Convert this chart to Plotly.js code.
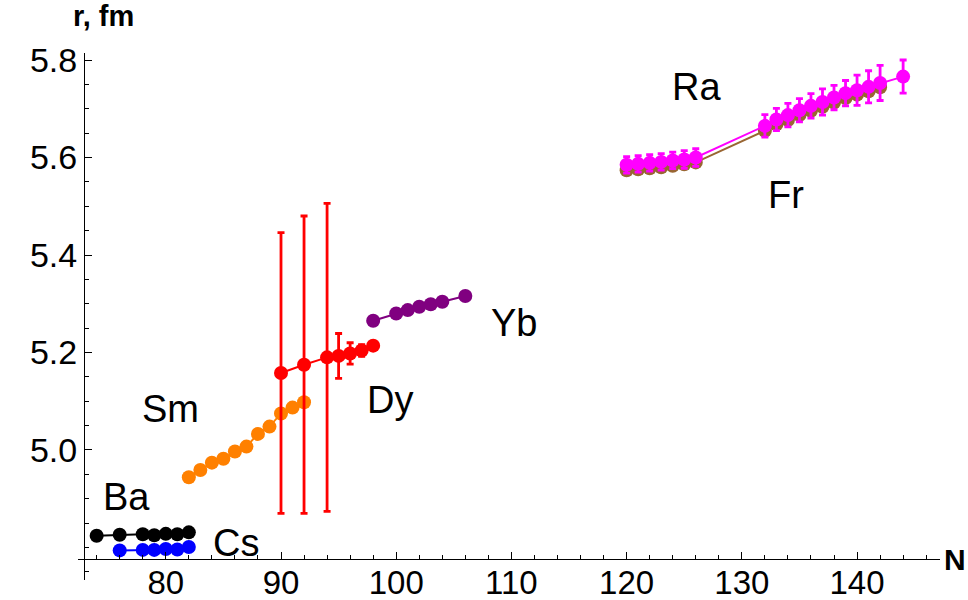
<!DOCTYPE html>
<html>
<head>
<meta charset="utf-8">
<script src="https://cdn.plot.ly/plotly-3.0.1.min.js"></script>
<style>html,body{margin:0;padding:0;background:#fff;}#chart{width:968px;height:600px;}</style>
</head>
<body>
<div id="chart"></div>
<script>
// ---- data (neutron number N, charge radius r in fm) ----
const baN = [74, 76, 78, 79, 80, 81, 82];
const baR = [4.824, 4.826, 4.827, 4.825, 4.828, 4.827, 4.831];

const csN = [76, 78, 79, 80, 81, 82];
const csR = [4.794, 4.795, 4.795, 4.797, 4.796, 4.801];

const smN = [82, 83, 84, 85, 86, 87, 88, 89, 90, 91, 92];
const smR = [4.944, 4.959, 4.974, 4.982, 4.997, 5.007, 5.033, 5.048, 5.075, 5.087, 5.098];

const dyN = [90, 92, 94, 95, 96, 97, 98];
const dyR = [5.158, 5.175, 5.190, 5.193, 5.198, 5.204, 5.214];
const dyErr = [0.288, 0.305, 0.316, 0.046, 0.022, 0.012, 0.004];

const ybN = [98, 100, 101, 102, 103, 104, 106];
const ybR = [5.265, 5.280, 5.287, 5.294, 5.299, 5.304, 5.316];

const raN = [120, 121, 122, 123, 124, 125, 126, 132, 133, 134, 135, 136, 137, 138, 139, 140, 141, 142, 144];
const raR = [5.585, 5.587, 5.589, 5.591, 5.594, 5.596, 5.600, 5.665, 5.678, 5.687, 5.697, 5.706, 5.714, 5.723, 5.732, 5.738, 5.745, 5.753, 5.766];
const raErr = [0.017, 0.017, 0.017, 0.017, 0.017, 0.018, 0.018, 0.023, 0.023, 0.024, 0.024, 0.025, 0.027, 0.025, 0.026, 0.031, 0.033, 0.036, 0.034];

const frN = [120, 121, 122, 123, 124, 125, 126, 132, 133, 134, 135, 136, 137, 138, 139, 140, 141, 142];
const frR = [5.574, 5.576, 5.578, 5.580, 5.583, 5.586, 5.590, 5.655, 5.668, 5.677, 5.687, 5.696, 5.704, 5.713, 5.722, 5.729, 5.736, 5.744];

// element labels
const labelText = ["Ba", "Cs", "Sm", "Dy", "Yb", "Ra", "Fr"];
const labelN = [76.6, 86.1, 80.4, 99.5, 110.2, 126.1, 133.8];
const labelR = [4.903, 4.809, 5.084, 5.103, 5.260, 5.745, 5.524];

// ---- styles ----
const FONT = "Liberation Sans, Arial, sans-serif";
function series(x, y, color, err) {
  const t = {
    x: x, y: y, type: "scatter", mode: "lines+markers",
    line: {color: color, width: 2},
    marker: {color: color, size: 14},
    cliponaxis: false,
    showlegend: false, hoverinfo: "skip"
  };
  if (err) {
    t.error_y = {type: "data", array: err, visible: true, color: color, thickness: 2.8, width: 3.5};
  }
  return t;
}

const traces = [
  series(baN, baR, "#000000"),
  series(csN, csR, "#0000ff"),
  series(smN, smR, "#ff8000"),
  series(dyN, dyR, "#ff0000", dyErr),
  series(ybN, ybR, "#800080"),
  series(frN, frR, "#996633"),
  series(raN, raR, "#ff00ff", raErr)
];

const annotations = labelText.map((t, i) => ({
  x: labelN[i], y: labelR[i], xref: "x", yref: "y", text: t, showarrow: false,
  font: {family: FONT, size: 38, color: "#000"}, xanchor: "center", yanchor: "middle"
}));
annotations.push({x: 0.03, y: 1.07, xref: "paper", yref: "paper", text: "<b>r, fm</b>", showarrow: false,
  font: {family: FONT, size: 29, color: "#000"}, xanchor: "center", yanchor: "middle"});
annotations.push({x: 1.0174, y: 0.038, xref: "paper", yref: "paper", text: "<b>N</b>", showarrow: false,
  font: {family: FONT, size: 30, color: "#000"}, xanchor: "center", yanchor: "middle"});

const layout = {
  width: 968, height: 600,
  margin: {l: 78, r: 28, t: 53, b: 20},
  paper_bgcolor: "#fff", plot_bgcolor: "#fff",
  showlegend: false,
  xaxis: {
    range: [72.38, 147.2], anchor: "free", position: 0.0398,
    showgrid: false, zeroline: false, showline: true, linecolor: "#000", linewidth: 1,
    ticks: "inside", ticklen: 7, tickwidth: 1, tickcolor: "#000",
    tickmode: "linear", tick0: 80, dtick: 10, ticklabelstandoff: -6,
    minor: {tickmode: "linear", tick0: 80, dtick: 2, ticks: "inside", ticklen: 4, tickcolor: "#000", tickwidth: 1},
    tickfont: {family: FONT, size: 33, color: "#000"}
  },
  yaxis: {
    range: [4.7333, 5.8144], anchor: "free", position: 0.00696,
    showgrid: false, zeroline: false, showline: true, linecolor: "#000", linewidth: 1,
    ticks: "inside", ticklen: 7, tickwidth: 1, tickcolor: "#000",
    tickmode: "array", tickvals: [5.0, 5.2, 5.4, 5.6, 5.8], ticktext: ["5.0", "5.2", "5.4", "5.6", "5.8"],
    minor: {tickmode: "linear", tick0: 5.0, dtick: 0.05, ticks: "inside", ticklen: 4, tickcolor: "#000", tickwidth: 1},
    tickfont: {family: FONT, size: 34, color: "#000"}
  },
  annotations: annotations
};

Plotly.newPlot("chart", traces, layout, {displayModeBar: false, staticPlot: true});
</script>
</body>
</html>
